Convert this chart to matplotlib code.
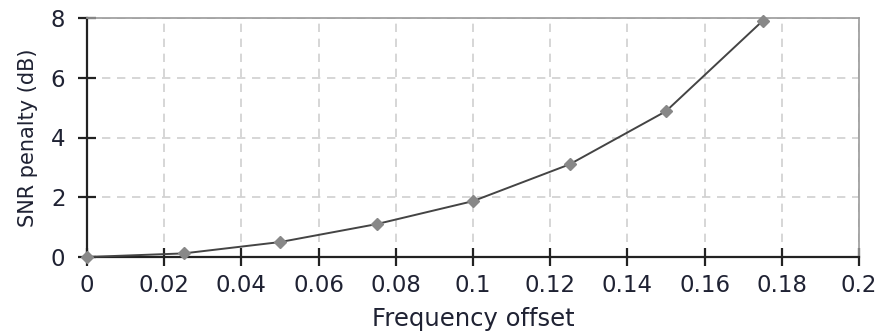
import numpy as np
import matplotlib
matplotlib.use("Agg")
import matplotlib.pyplot as plt
from matplotlib.ticker import FuncFormatter

# Frequency offset vs. SNR penalty
freq_offset = [0, 0.025, 0.05, 0.075, 0.1, 0.125, 0.15, 0.175]
snr_penalty = [0.0, 0.12, 0.5, 1.1, 1.87, 3.1, 4.88, 7.9]
x_ticks = [0, 0.02, 0.04, 0.06, 0.08, 0.1, 0.12, 0.14, 0.16, 0.18, 0.2]
y_ticks = [0, 2, 4, 6, 8]

plt.rcParams['font.family'] = ['DejaVu Sans']
txt = '#1f2233'

fig = plt.figure(figsize=(8.82, 3.34), dpi=100)
ax = fig.add_axes([87/882, 1-257/334, (859-87)/882, (257-18)/334])

ax.plot(freq_offset, snr_penalty, color='#444444', linewidth=1.4,
        marker='D', markersize=6.5, markerfacecolor='#888888',
        markeredgecolor='#888888', clip_on=False, zorder=3)

ax.set_xlim(0, 0.2)
ax.set_ylim(0, 8)
ax.set_xticks(x_ticks)
ax.set_yticks(y_ticks)
ax.xaxis.set_major_formatter(FuncFormatter(lambda v, p: '%g' % round(v, 3)))
ax.yaxis.set_major_formatter(FuncFormatter(lambda v, p: '%g' % v))

ax.grid(True, color='#d0d0d0', linestyle=(0, (5, 4)), linewidth=1.2)
ax.set_axisbelow(True)

for s in ['left', 'bottom']:
    ax.spines[s].set_color('#222222')
    ax.spines[s].set_linewidth(1.6)
for s in ['top', 'right']:
    ax.spines[s].set_color('#999999')
    ax.spines[s].set_linewidth(1.2)

ax.tick_params(axis='both', direction='inout', length=13, width=1.6,
               color='#222222', labelsize=16.5, labelcolor=txt)
ax.tick_params(axis='x', pad=6)
ax.tick_params(axis='y', pad=9)

ax.set_xlabel('Frequency offset', fontsize=17.5, color=txt, labelpad=7)
ax.set_ylabel('SNR penalty (dB)', fontsize=15, color=txt, labelpad=9)

fig.savefig('out.png', dpi=100)
